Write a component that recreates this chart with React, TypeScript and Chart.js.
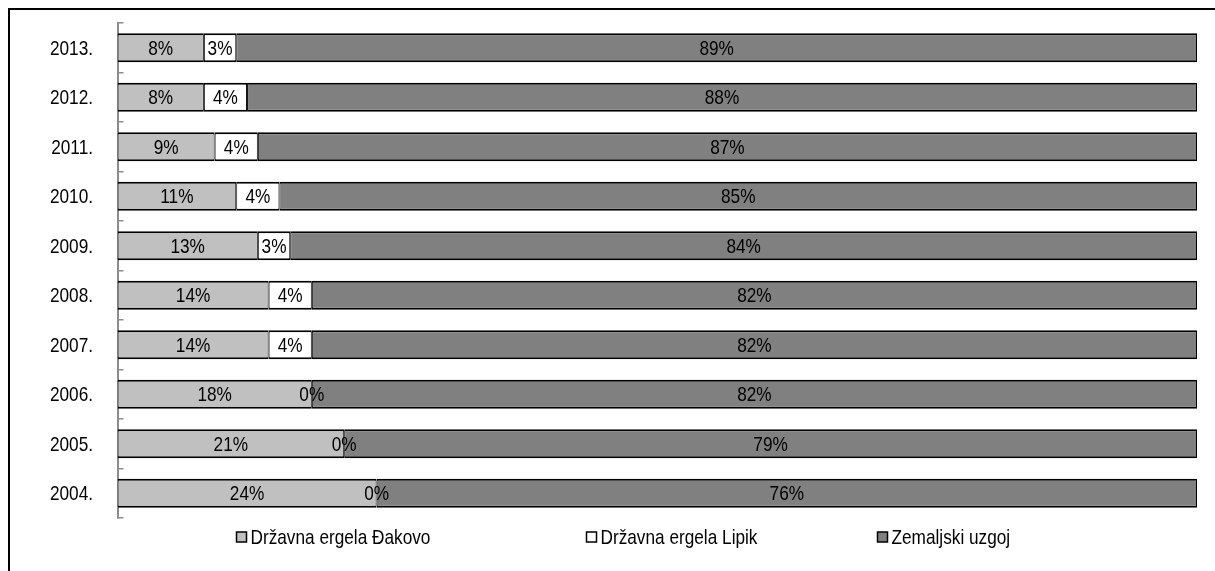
import React, { useEffect, useRef } from 'react';
import { Chart, registerables } from 'chart.js';

Chart.register(...registerables);

const years = ['2013.', '2012.', '2011.', '2010.', '2009.', '2008.', '2007.', '2006.', '2005.', '2004.'];
const dakovo = [8, 8, 9, 11, 13, 14, 14, 18, 21, 24];
const lipik = [3, 4, 4, 4, 3, 4, 4, 0, 0, 0];
const zemaljski = [89, 88, 87, 85, 84, 82, 82, 82, 79, 76];
const seriesNames = ['Državna ergela Đakovo', 'Državna ergela Lipik', 'Zemaljski uzgoj'];
const seriesColors = ['#c0c0c0', '#ffffff', '#808080'];
const legendStart = [0.1097, 0.4338, 0.7032];

const FAMILY = "'Liberation Sans Narrow', 'Arial Narrow', 'Liberation Sans', Arial, sans-serif";
const FONT_SIZE = 21;
const NARROW = 0.82;

function narrowText(ctx: CanvasRenderingContext2D, text: string, x: number, y: number, align: CanvasTextAlign) {
  ctx.save();
  ctx.translate(x, y);
  ctx.scale(NARROW, 1);
  ctx.textAlign = align;
  ctx.fillText(text, 0, 0);
  ctx.restore();
}

const valueLabels = {
  id: 'valueLabels',
  afterDatasetsDraw(chart: any) {
    const ctx = chart.ctx;
    ctx.save();
    ctx.font = `${FONT_SIZE}px ${FAMILY}`;
    ctx.fillStyle = '#000';
    ctx.textBaseline = 'middle';
    chart.data.datasets.forEach((ds: any, di: number) => {
      const meta = chart.getDatasetMeta(di);
      meta.data.forEach((bar: any, i: number) => {
        const p = bar.getProps(['x', 'y', 'base'], true);
        const cx = (p.x + p.base) / 2;
        narrowText(ctx, `${ds.data[i]}%`, cx, p.y + 1, 'center');
      });
    });
    ctx.restore();
  },
};

const yLabels = {
  id: 'yLabels',
  afterDraw(chart: any) {
    const ctx = chart.ctx;
    const ys = chart.scales.y;
    ctx.save();
    ctx.font = `${FONT_SIZE}px ${FAMILY}`;
    ctx.fillStyle = '#000';
    ctx.textBaseline = 'middle';
    ys.ticks.forEach((t: any, i: number) => {
      const y = ys.getPixelForTick(i);
      narrowText(ctx, String(ys.getLabelForValue(t.value)), chart.chartArea.left - 24.5, y + 1, 'right');
    });
    ctx.restore();
  },
};

const customLegend = {
  id: 'customLegend',
  afterDraw(chart: any) {
    const ctx = chart.ctx;
    const area = chart.chartArea;
    const yc = area.bottom + 19;
    ctx.save();
    ctx.font = `${FONT_SIZE}px ${FAMILY}`;
    ctx.textBaseline = 'middle';
    chart.data.datasets.forEach((ds: any, i: number) => {
      const x = Math.round(area.left + area.width * legendStart[i]) + 0.5;
      ctx.fillStyle = ds.backgroundColor;
      ctx.fillRect(x, yc - 5, 10, 10);
      ctx.strokeStyle = '#000';
      ctx.lineWidth = 1.5;
      ctx.strokeRect(x, yc - 5, 10, 10);
      ctx.fillStyle = '#000';
      narrowText(ctx, ds.label, x + 14, yc + 1, 'left');
    });
    ctx.restore();
  },
};

export default function App() {
  const canvasRef = useRef<HTMLCanvasElement | null>(null);

  useEffect(() => {
    if (!canvasRef.current) return;
    const border = { top: 2, bottom: 2, left: 1, right: 1 };
    const seriesData = [dakovo, lipik, zemaljski];
    const chart = new Chart(canvasRef.current, {
      type: 'bar',
      data: {
        labels: years,
        datasets: seriesData.map((d, i) => ({
          label: seriesNames[i],
          data: d,
          backgroundColor: seriesColors[i],
          borderColor: '#000',
          borderWidth: border,
          borderSkipped: false,
          barPercentage: 1,
          categoryPercentage: 0.586,
        })),
      },
      options: {
        indexAxis: 'y',
        responsive: false,
        animation: false,
        layout: { padding: { left: 0, right: 18, top: 13, bottom: 53 } },
        plugins: {
          legend: { display: false },
          tooltip: { enabled: false },
        },
        scales: {
          x: { stacked: true, min: 0, max: 100, display: false },
          y: {
            stacked: true,
            offset: true,
            grid: {
              display: true,
              offset: true,
              drawOnChartArea: false,
              drawTicks: true,
              tickLength: -6,
              color: '#8c8c8c',
              lineWidth: 1.5,
            },
            border: { display: true, color: '#8c8c8c', width: 2 },
            ticks: { display: false },
            afterFit: (s: any) => {
              s.width = 107.5;
              s.paddingTop = 0;
              s.paddingBottom = 0;
            },
          },
        },
      } as any,
      plugins: [valueLabels, yLabels, customLegend],
    });
    return () => chart.destroy();
  }, []);

  return (
    <div
      style={{
        position: 'absolute',
        left: 8,
        top: 8,
        width: 1207,
        height: 563,
        boxSizing: 'border-box',
        borderLeft: '2px solid #000',
        borderTop: '2px solid #000',
        background: '#fff',
      }}
    >
      <canvas ref={canvasRef} width={1205} height={561} style={{ display: 'block' }} />
    </div>
  );
}
